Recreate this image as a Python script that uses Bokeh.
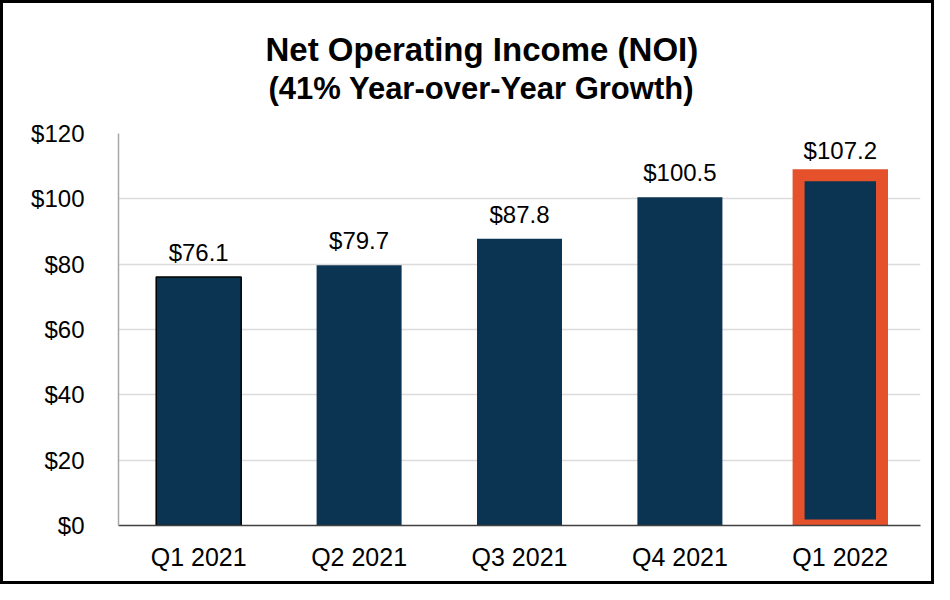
from bokeh.plotting import figure
from bokeh.models import ColumnDataSource, Title, FixedTicker, LabelSet, NumeralTickFormatter, FactorRange
from bokeh.core.properties import value
from bokeh.embed import file_html
from bokeh.resources import INLINE

quarters = ["Q1 2021", "Q2 2021", "Q3 2021", "Q4 2021", "Q1 2022"]
noi = [76.1, 79.7, 87.8, 100.5, 107.2]
labels = ["$76.1", "$79.7", "$87.8", "$100.5", "$107.2"]
y_ticks = [0, 20, 40, 60, 80, 100, 120]

NAVY = "#0b3452"
ORANGE = "#e4512b"
FONT = "Liberation Sans"

src = ColumnDataSource(dict(q=quarters, v=noi, lab=labels))
src_first = ColumnDataSource(dict(q=quarters[:1], v=noi[:1]))
src_last = ColumnDataSource(dict(q=quarters[-1:], v=noi[-1:]))

p = figure(width=934, height=584, x_range=FactorRange(*quarters, range_padding=0),
           y_range=(0, 120), output_backend="svg", toolbar_location=None,
           min_border_left=115, min_border_right=17, min_border_bottom=62, min_border_top=130)
p.styles = {"border": "3px solid black", "box-sizing": "border-box"}

p.vbar(x="q", top="v", width=0.53, source=src, fill_color=NAVY, line_color=None)
p.vbar(x="q", top="v", width=0.53, source=src_first, fill_color=NAVY, line_color="black", line_width=1.5)
p.vbar(x="q", top="v", width=0.52, source=src_last, fill_color=NAVY, line_color=ORANGE,
       line_width=12, line_join="miter")

p.add_layout(LabelSet(x="q", y="v", text="lab", source=src, text_align="center",
                      text_baseline="bottom", y_offset=11, text_font=value(FONT),
                      text_font_size=value("24px"), text_color="black"))

# spacer between the title block and the plot frame
p.add_layout(Title(text=" ", text_font_size="11px", standoff=12), "above")
p.add_layout(Title(text="(41% Year-over-Year Growth)", align="left", text_font=FONT,
                   text_font_size="31px", text_font_style="bold", offset=150,
                   standoff=3, text_color="black"), "above")
p.add_layout(Title(text="Net Operating Income (NOI)", align="left", text_font=FONT,
                   text_font_size="33px", text_font_style="bold", offset=147,
                   standoff=0, text_color="black"), "above")
p.title.text = ""

p.yaxis.ticker = FixedTicker(ticks=y_ticks)
p.yaxis.formatter = NumeralTickFormatter(format="$0")
p.yaxis.major_label_text_font = FONT
p.yaxis.major_label_text_font_size = "24px"
p.yaxis.major_label_text_color = "black"
p.yaxis.major_label_standoff = 28
p.yaxis.major_tick_line_color = None
p.yaxis.minor_tick_line_color = None
p.yaxis.axis_line_color = "#a6a6a6"
p.yaxis.axis_line_width = 1.5

p.xaxis.major_label_text_font = FONT
p.xaxis.major_label_text_font_size = "25px"
p.xaxis.major_label_text_color = "black"
p.xaxis.major_label_standoff = 11
p.xaxis.major_tick_line_color = None
p.xaxis.axis_line_color = "#404040"
p.xaxis.axis_line_width = 1.5

p.xgrid.grid_line_color = None
p.ygrid.grid_line_color = "#dcdcdc"
p.ygrid.grid_line_width = 1.5
p.outline_line_color = None

open("out.html", "w").write(file_html(p, INLINE))
